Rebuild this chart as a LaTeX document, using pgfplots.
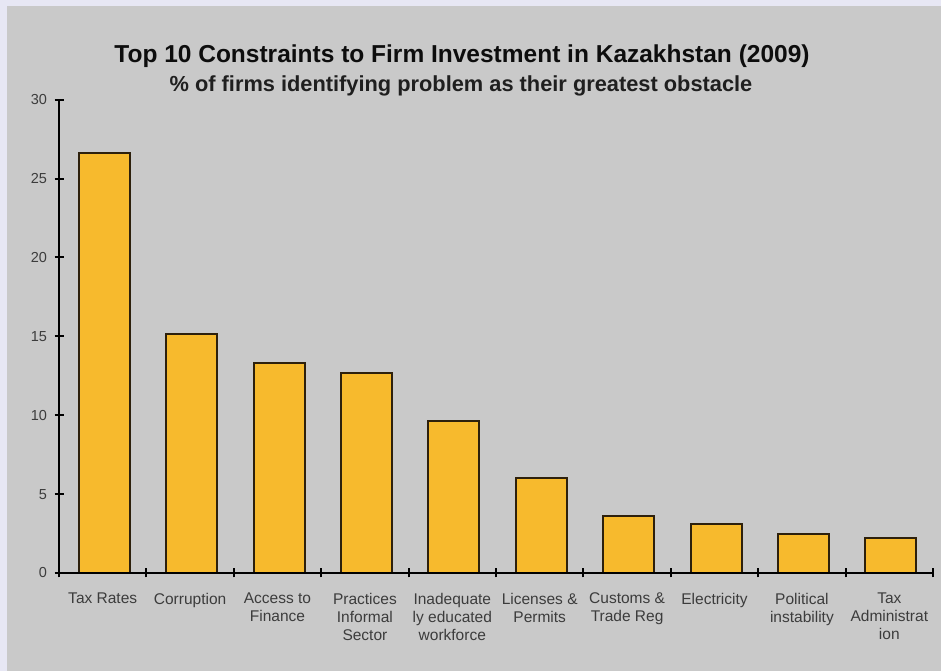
\documentclass[border=0pt]{standalone}
\usepackage{fontspec}
\setmainfont{Liberation Sans}
\usepackage{pgfplots}
\pgfplotsset{compat=1.18}
\definecolor{lav}{RGB}{231,231,244}
\definecolor{bg}{RGB}{201,201,201}
\definecolor{barfill}{RGB}{247,186,45}
\definecolor{barline}{RGB}{45,32,12}
\definecolor{txt}{RGB}{60,60,60}
\begin{document}
\begin{tikzpicture}[x=1bp,y=1bp]
\fill[lav] (0,0) rectangle (941,671);
\fill[bg] (7,0) rectangle (941,665);
\node[anchor=base, font=\fontsize{24.5bp}{28bp}\selectfont\bfseries, text=black!95] at (462,608) {Top 10 Constraints to Firm Investment in Kazakhstan (2009)};
\node[anchor=base, font=\fontsize{21.8bp}{25bp}\selectfont\bfseries, text=black!88] at (461,579) {\% of firms identifying problem as their greatest obstacle};
\begin{axis}[
  at={(59bp,98bp)}, anchor=south west,
  scale only axis, width=874bp, height=473.3bp,
  xmin=-0.5, xmax=9.5, ymin=0, ymax=30,
  axis lines=left, axis line style={line width=2bp, -},
  axis on top, clip=false,
  ytick={0,5,...,30},
  xtick={0,...,9},
  xticklabels={Tax Rates, Corruption, {Access to\\Finance}, {Practices\\Informal\\Sector}, {Inadequate\\ly educated\\workforce}, {Licenses \&\\Permits}, {Customs \&\\Trade Reg}, Electricity, {Political\\instability}, {Tax\\Administrat\\ion}},
  minor xtick={-0.5,0.5,...,9.5},
  major x tick style={draw=none},
  tick align=center,
  major tick length=9bp, minor tick length=9bp,
  tick style={black, line width=2bp},
  xticklabel style={align=center, font=\fontsize{15.5bp}{18bp}\selectfont, text=txt, anchor=north, yshift=-12bp},
  yticklabel style={font=\fontsize{14.5bp}{17bp}\selectfont, text=txt, xshift=-4bp},
  /pgf/number format/assume math mode=true,
]
\addplot[ybar, bar width=51bp, bar shift=1.5bp, fill=barfill, draw=barline, line width=2bp]
  coordinates {(0,26.6) (1,15.14) (2,13.3) (3,12.7) (4,9.62) (5,6.04) (6,3.59) (7,3.08) (8,2.45) (9,2.19)};
\end{axis}
\end{tikzpicture}
\end{document}
